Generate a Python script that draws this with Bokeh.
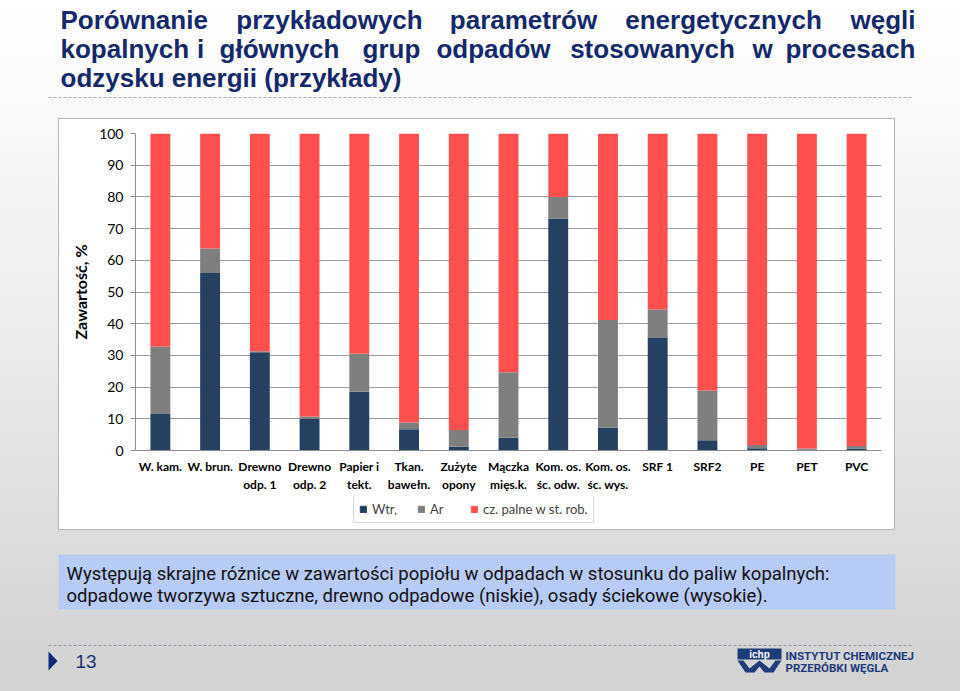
from bokeh.plotting import figure
from bokeh.layouts import column
from bokeh.models import (Label, BoxAnnotation, PolyAnnotation, FactorRange,
                          FixedTicker, Range1d, ColumnDataSource)
from bokeh.embed import file_html
from bokeh.resources import INLINE

# ---------------- data ----------------
categories = ["W. kam.", "W. brun.", "Drewno\nodp. 1", "Drewno\nodp. 2",
              "Papier i\ntekt.", "Tkan.\nbawełn.", "Zużyte\nopony",
              "Mączka\nmięs.k.", "Kom. os.\nśc. odw.", "Kom. os.\nśc. wys.",
              "SRF 1", "SRF2", "PE", "PET", "PVC"]
wtr = [11.5, 56.0, 31.0, 10.0, 18.5, 6.7, 1.2, 4.0, 73.2, 7.2, 35.5, 3.2, 0.7, 0.2, 0.6]
ar = [21.2, 7.7, 0.3, 0.7, 12.0, 2.1, 5.3, 20.7, 6.8, 34.0, 9.0, 15.7, 1.0, 0.4, 0.8]
palne = [67.3, 36.3, 68.7, 89.3, 69.5, 91.2, 93.5, 75.3, 20.0, 58.8, 55.5, 81.1, 98.3, 99.4, 98.6]
series_names = ["Wtr,", "Ar", "cz. palne w st. rob."]
y_ticks = [0, 10, 20, 30, 40, 50, 60, 70, 80, 90, 100]

title_line1 = ["Porównanie", "przykładowych", "parametrów", "energetycznych", "węgli"]
title_line2 = ["kopalnych", "i", "głównych", "grup", "odpadów", "stosowanych", "w", "procesach"]
title_line3 = "odzysku energii (przykłady)"
note_lines = ["Występują skrajne różnice w zawartości popiołu w odpadach w stosunku do paliw kopalnych:",
              "odpadowe tworzywa sztuczne, drewno odpadowe (niskie), osady ściekowe (wysokie)."]
page_no = "13"
logo_lines = ["INSTYTUT CHEMICZNEJ", "PRZERÓBKI WĘGLA"]

NAVY = "#14296b"
LOGO = "#1f3b7a"
BAR_COLORS = ["#254061", "#7f7f7f", "#ff5050"]
AXIS_GREY = "#8c8c8c"
W = 960
TOP_H, CHART_H, BOT_H = 118, 378, 195   # 0-118, 118-496, 496-691


def no_align(f):
    try:
        f.frame_align = False
    except AttributeError:
        pass


def deco_figure(h, y0):
    f = figure(width=W, height=h, x_range=Range1d(0, W), y_range=Range1d(y0 + h, y0),
               x_axis_type=None, y_axis_type=None, output_backend="svg",
               toolbar_location=None, min_border=0, min_border_left=0,
               min_border_right=0, min_border_top=0, min_border_bottom=0,
               border_fill_color=None, background_fill_color=None,
               outline_line_color=None)
    f.xgrid.visible = False
    f.ygrid.visible = False
    no_align(f)
    return f


def lab(f, x, y, text, size, font="Liberation Sans", style="normal", color="#000000",
        align="left", baseline="middle"):
    f.add_layout(Label(x=x, y=y, text=text, text_font=font, text_font_size=size,
                       text_font_style=style, text_color=color, text_align=align,
                       text_baseline=baseline))


# ---------------- top (title) ----------------
top = deco_figure(TOP_H, 0)
t1_pos = [(60, "left"), (329, "center"), (523, "center"), (723, "center"), (915, "right")]
for (x, a), w in zip(t1_pos, title_line1):
    lab(top, x, 19, w, "26px", style="bold", color=NAVY, align=a)
t2_pos = [(60, "left"), (200, "center"), (279, "center"), (391, "center"),
          (493, "center"), (652, "center"), (762, "center"), (915, "right")]
for (x, a), w in zip(t2_pos, title_line2):
    lab(top, x, 48, w, "26px", style="bold", color=NAVY, align=a)
lab(top, 60, 77, title_line3, "26px", style="bold", color=NAVY)
top.add_layout(BoxAnnotation(left=48, right=912, top=97, bottom=97, fill_alpha=0,
                             line_color="#56627c", line_width=1, line_dash="3 2"))

# ---------------- chart ----------------
p = figure(x_range=FactorRange(factors=categories), y_range=Range1d(0, 100),
           width=W, height=CHART_H, output_backend="svg", toolbar_location=None,
           min_border_left=135, min_border_right=79, min_border_top=15,
           min_border_bottom=46, border_fill_color=None,
           background_fill_color="white", outline_line_color=None)
no_align(p)
p.styles = {"background": (
    "linear-gradient(#ffffff,#ffffff) 59px 1px / 835px 377px no-repeat, "
    "linear-gradient(#b4b4b4,#b4b4b4) 58px 0px / 837px 378px no-repeat")}

src = ColumnDataSource(dict(cat=categories, wtr=wtr, ar=ar, palne=palne))
p.vbar_stack(["wtr", "ar", "palne"], x="cat", width=0.4, color=BAR_COLORS,
             line_color=None, source=src)

ticker = FixedTicker(ticks=y_ticks)
p.yaxis.ticker = ticker
p.ygrid.ticker = ticker
p.ygrid.grid_line_color = "#9c9c9c"
p.xgrid.grid_line_color = None

p.yaxis.axis_line_color = AXIS_GREY
p.yaxis.major_tick_line_color = AXIS_GREY
p.yaxis.major_tick_out = 5
p.yaxis.major_tick_in = 0
p.yaxis.minor_tick_line_color = None
p.yaxis.major_label_text_font = "Lato"
p.yaxis.major_label_text_font_size = "14px"
p.yaxis.major_label_text_color = "#000000"
p.yaxis.major_label_standoff = 7
p.yaxis.axis_label = "Zawartość, %"
p.yaxis.axis_label_text_font = "Lato"
p.yaxis.axis_label_text_font_style = "bold"
p.yaxis.axis_label_text_font_size = "16px"
p.yaxis.axis_label_text_color = "#000000"
p.yaxis.axis_label_standoff = 6

p.xaxis.axis_line_color = AXIS_GREY
p.xaxis.major_tick_line_color = None
p.xaxis.major_tick_out = 0
p.xaxis.major_tick_in = 0
p.xaxis.major_label_text_font = "Lato"
p.xaxis.major_label_text_font_style = "bold"
p.xaxis.major_label_text_font_size = "12px"
p.xaxis.major_label_text_color = "#000000"
p.xaxis.major_label_standoff = 8

# ---------------- bottom (legend, note, footer) ----------------
bot = deco_figure(BOT_H, TOP_H + CHART_H)
bot.styles = {"background": (
    "linear-gradient(#ffffff,#ffffff) 59px 0px / 835px 33px no-repeat, "
    "linear-gradient(#b4b4b4,#b4b4b4) 58px 0px / 837px 34px no-repeat")}

# legend of the chart's three series (legend-only proxy renderers, nothing drawn)
nan = float("nan")
for name, col in zip(series_names, BAR_COLORS):
    bot.vbar(x=[nan], top=[nan], width=1, color=col, legend_label=name)
lg = bot.legend[0]
lg.location = (353, 168)
lg.orientation = "horizontal"
lg.border_line_color = "#b8b8b8"
lg.background_fill_color = "white"
lg.background_fill_alpha = 1
lg.label_text_font = "Lato"
lg.label_text_font_size = "13px"
lg.glyph_width = 8
lg.glyph_height = 8
lg.label_height = 12
lg.padding = 5
lg.spacing = 20
lg.label_standoff = 5
lg.margin = 0

bot.add_layout(BoxAnnotation(left=58, right=895, top=554, bottom=609,
                             fill_color="#b7cbf6", fill_alpha=1, line_color=None))
lab(bot, 66, 573, note_lines[0], "18.5px", font="Roboto", color="#111111")
lab(bot, 66, 595, note_lines[1], "18.5px", font="Roboto", color="#111111")
bot.add_layout(BoxAnnotation(left=48, right=912, top=645, bottom=645, fill_alpha=0,
                             line_color="#56627c", line_width=1, line_dash="3 2"))
bot.add_layout(PolyAnnotation(xs=[48, 57, 48], ys=[651, 660.5, 670],
                              fill_color="#0d2a7a", fill_alpha=1, line_color=None))
lab(bot, 75, 661, page_no, "19px", color="#1d2f7a")
bot.add_layout(BoxAnnotation(left=737, right=781, top=648, bottom=659,
                             fill_color=LOGO, fill_alpha=1, line_color=None))
bot.add_layout(PolyAnnotation(xs=[737, 745, 754, 759, 764, 773, 781, 775, 769, 759, 749, 743],
                              ys=[660, 672, 672, 666, 672, 672, 660, 660, 668, 660, 668, 660],
                              fill_color=LOGO, fill_alpha=1, line_color=None))
lab(bot, 759, 654, "ichp", "10px", style="bold", color="white", align="center")
lab(bot, 785, 655, logo_lines[0], "11.5px", font="Roboto", style="bold", color=LOGO)
lab(bot, 785, 667, logo_lines[1], "11.5px", font="Roboto", style="bold", color=LOGO)

layout = column(top, p, bot, spacing=0)
layout.styles = {"background": "linear-gradient(180deg, #ffffff 0%, #fbfbfb 14%, "
                               "#e8e8e8 55%, #d2d2d2 100%)"}

open("out.html", "w").write(file_html(layout, INLINE))
